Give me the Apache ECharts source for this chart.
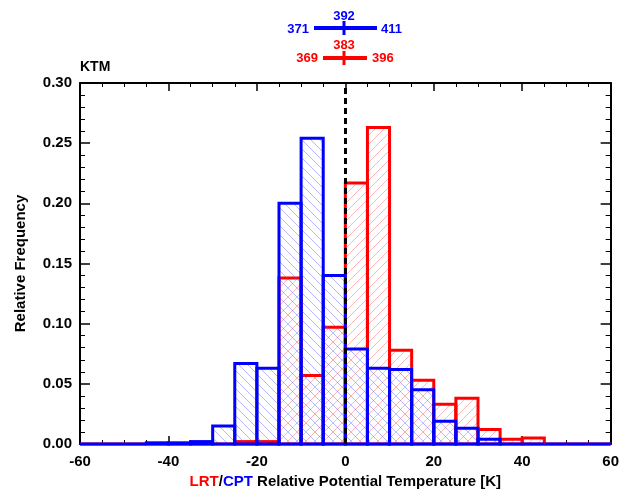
<!DOCTYPE html>
<html>
<head>
<meta charset="utf-8">
<script src="https://cdn.jsdelivr.net/npm/echarts@6/dist/echarts.min.js"></script>
<style>html,body{margin:0;padding:0;background:#fff}#chart{width:622px;height:494px}</style>
</head>
<body>
<div id="chart"></div>
<script>
// bin left edges [K], bins are 5 K wide
const binStarts = [-60,-55,-50,-45,-40,-35,-30,-25,-20,-15,-10,-5,0,5,10,15,20,25,30,35,40,45,50,55]
const cptFreq = [0,0,0,0.001,0.001,0.002,0.015,0.067,0.063,0.200,0.254,0.140,0.079,0.063,0.062,0.045,0.019,0.013,0.004,0,0,0,0,0]
const lrtFreq = [0,0,0,0,0,0,0,0.002,0.002,0.138,0.057,0.097,0.217,0.263,0.078,0.053,0.033,0.038,0.012,0.004,0.005,0,0,0]
const binWidth = 5

const chart = echarts.init(document.getElementById('chart'))
const font = 'Liberation Sans, Arial, sans-serif'

// diagonal hatch pattern; dir 1 = '/', -1 = '\'
function hatch(color, dir) {
  const s = 9
  const c = document.createElement('canvas')
  c.width = s; c.height = s
  const g = c.getContext('2d')
  g.strokeStyle = color
  g.lineWidth = 0.8
  for (let k = -1; k <= 1; k++) {
    g.beginPath()
    if (dir > 0) { g.moveTo(k * s, s); g.lineTo(k * s + s, 0) }
    else { g.moveTo(k * s, 0); g.lineTo(k * s + s, s) }
    g.stroke()
  }
  return { image: c, repeat: 'repeat' }
}

function histSeries(name, freq, color, pattern) {
  return {
    name, type: 'custom', xAxisIndex: 0, yAxisIndex: 0, silent: true,
    data: binStarts.map((b, i) => [b, freq[i]]),
    renderItem(params, api) {
      const p0 = api.coord([api.value(0), 0])
      const p1 = api.coord([api.value(0) + binWidth, api.value(1)])
      return {
        type: 'rect',
        shape: { x: p0[0], y: p1[1], width: p1[0] - p0[0], height: p0[1] - p1[1] },
        style: { fill: pattern, stroke: color, lineWidth: 3 }
      }
    }
  }
}

const sideAxis = {
  axisLine: { show: true, onZero: false, lineStyle: { color: '#000', width: 2 } },
  axisTick: { inside: true, length: 10, lineStyle: { color: '#000', width: 1.5 } },
  minorTick: { show: true, splitNumber: 5, length: 5, lineStyle: { color: '#000' } },
  splitLine: { show: false }
}
const xBase = {
  type: 'value', min: -60, max: 60, interval: 20,
  axisLine: { onZero: false, lineStyle: { color: '#000', width: 2 } },
  axisTick: { inside: true, length: 8, lineStyle: { color: '#000', width: 1.5 } },
  minorTick: { show: true, splitNumber: 4, length: 4, lineStyle: { color: '#000' } },
  splitLine: { show: false }
}

chart.setOption({
  animation: false,
  grid: { left: 80, right: 10, top: 83, bottom: 49 },
  xAxis: [
    Object.assign({ position: 'bottom',
      axisLabel: { color: '#000', fontSize: 15, fontWeight: 'bold', fontFamily: font, margin: 10 },
      name: '{r|LRT}/{b|CPT} Relative Potential Temperature [K]',
      nameLocation: 'middle', nameGap: 30,
      nameTextStyle: { fontSize: 15, fontWeight: 'bold', fontFamily: font, color: '#000',
        rich: { r: { color: '#f00', fontSize: 15, fontWeight: 'bold', fontFamily: font },
                b: { color: '#00f', fontSize: 15, fontWeight: 'bold', fontFamily: font } } }
    }, xBase),
    Object.assign({ position: 'top', axisLabel: { show: false } }, xBase)
  ],
  yAxis: [
    Object.assign({ type: 'value', min: 0, max: 0.30, interval: 0.05, position: 'left',
      axisLabel: { color: '#000', fontSize: 15, fontWeight: 'bold', fontFamily: font,
        formatter: v => v.toFixed(2) },
      name: 'Relative Frequency', nameLocation: 'middle', nameGap: 52,
      nameTextStyle: { fontSize: 15, fontWeight: 'bold', fontFamily: font, color: '#000' }
    }, sideAxis),
    Object.assign({ type: 'value', min: 0, max: 0.30, interval: 0.05, position: 'right',
      axisLabel: { show: false } }, sideAxis)
  ],
  series: [
    histSeries('LRT', lrtFreq, '#f00', hatch('rgba(255,90,90,0.55)', 1)),
    histSeries('CPT', cptFreq, '#00f', hatch('rgba(90,90,255,0.55)', -1)),
    { type: 'line', xAxisIndex: 0, yAxisIndex: 0, data: [], silent: true,
      markLine: { symbol: 'none', silent: true, label: { show: false },
        lineStyle: { color: '#000', type: [6, 4], width: 3 },
        data: [{ xAxis: 0 }] } }
  ],
  graphic: [
    { type: 'text', left: 80, top: 60, style: { text: 'KTM', fontSize: 14, fontWeight: 'bold', fontFamily: font, fill: '#000' } },
    // CPT annotation
    { type: 'line', shape: { x1: 314, y1: 28, x2: 377, y2: 28 }, style: { stroke: '#00f', lineWidth: 4 } },
    { type: 'line', shape: { x1: 344, y1: 21, x2: 344, y2: 35 }, style: { stroke: '#00f', lineWidth: 3 } },
    { type: 'text', x: 344, y: 16, style: { text: '392', fill: '#00f', fontSize: 13, fontWeight: 'bold', fontFamily: font, align: 'center', verticalAlign: 'middle' } },
    { type: 'text', x: 309, y: 29, style: { text: '371', fill: '#00f', fontSize: 13, fontWeight: 'bold', fontFamily: font, align: 'right', verticalAlign: 'middle' } },
    { type: 'text', x: 381, y: 29, style: { text: '411', fill: '#00f', fontSize: 13, fontWeight: 'bold', fontFamily: font, align: 'left', verticalAlign: 'middle' } },
    // LRT annotation
    { type: 'line', shape: { x1: 323, y1: 58, x2: 367, y2: 58 }, style: { stroke: '#f00', lineWidth: 4 } },
    { type: 'line', shape: { x1: 344, y1: 51, x2: 344, y2: 65 }, style: { stroke: '#f00', lineWidth: 3 } },
    { type: 'text', x: 344, y: 45, style: { text: '383', fill: '#f00', fontSize: 13, fontWeight: 'bold', fontFamily: font, align: 'center', verticalAlign: 'middle' } },
    { type: 'text', x: 318, y: 58, style: { text: '369', fill: '#f00', fontSize: 13, fontWeight: 'bold', fontFamily: font, align: 'right', verticalAlign: 'middle' } },
    { type: 'text', x: 372, y: 58, style: { text: '396', fill: '#f00', fontSize: 13, fontWeight: 'bold', fontFamily: font, align: 'left', verticalAlign: 'middle' } }
  ]
})
</script>
</body>
</html>
